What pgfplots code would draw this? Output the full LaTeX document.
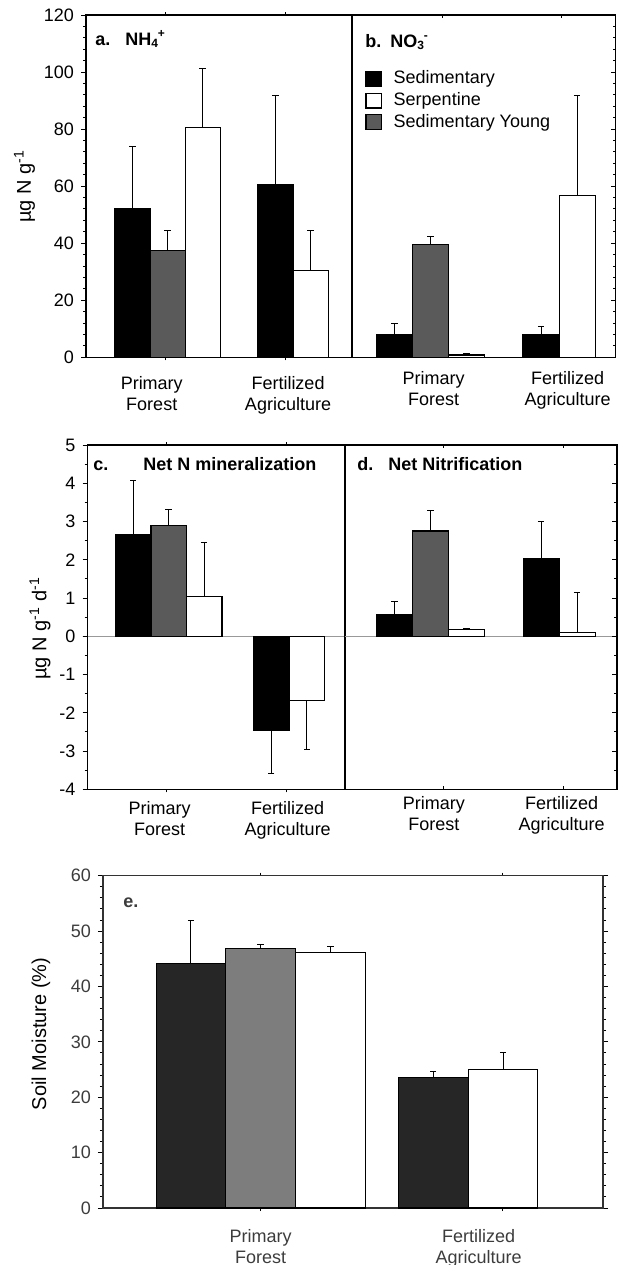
\documentclass[border=0pt]{standalone}
\usepackage{fontspec}
\setmainfont{Liberation Sans}
\usepackage{pgfplots}
\pgfplotsset{compat=1.18}

\definecolor{young}{RGB}{90,90,90}
\definecolor{sedE}{RGB}{38,38,38}
\definecolor{youngE}{RGB}{125,125,125}
\definecolor{textE}{RGB}{60,60,60}

\newcommand{\lab}{\fontsize{9}{10.5}\selectfont}
\newcommand{\ttl}{\fontsize{9}{10}\selectfont\bfseries}

\pgfplotsset{
  panel/.style={
    scale only axis, anchor=south west, ybar,
    every axis plot post/.append style={bar shift=0pt, draw=black, line width=0.6pt},
    axis line style={line width=0.6pt},
    tick style={black, line width=0.5pt},
    major tick length=2.5pt, minor tick length=1.5pt,
    tick align=outside,
    ticklabel style={font=\lab},
    /pgf/number format/assume math mode=true,
    x tick label style={align=center, font=\lab},
    major x tick style={draw=none},
    label style={font=\lab},
    error bars/y dir=plus, error bars/y explicit,
    error bars/error bar style={line width=0.5pt, black},
    error bars/error mark options={mark size=1.6pt, line width=0.5pt, black, rotate=90},
    xticklabels={{Primary\\Forest},{Fertilized\\Agriculture}},
  },
  zeroline/.style={
    extra y ticks={0}, extra y tick labels={},
    extra y tick style={grid=major, major grid style={gray!80, line width=0.4pt}},
  },
}

\begin{document}
\begin{tikzpicture}
\useasboundingbox (0pt,0pt) rectangle (309pt,-632.5pt);

% ---------- a. NH4+ ----------
\begin{axis}[panel, at={(43pt,-178.65pt)}, width=133pt, height=171.15pt,
  xmin=0.35, xmax=2.47, ymin=0, ymax=120,
  ytick={0,20,...,120}, minor y tick num=4, ytick pos=left,
  xtick={0.874,1.96}, minor xtick={0.984,1.943},
  x tick label style={yshift=-3.5pt},
  bar width=0.28,
  ylabel={µg N g\textsuperscript{-1}},
  every axis y label/.style={at={(rel axis cs:-0.231,0.5)}, rotate=90, anchor=center}]
\addplot[fill=black] coordinates {(0.72,52.0) +- (0,21.8) (1.86,60.6) +- (0,31.2)};
\addplot[fill=young] coordinates {(1.00,37.4) +- (0,7.2)};
\addplot[fill=white] coordinates {(1.28,80.7) +- (0,20.6) (2.14,30.5) +- (0,14.1)};
\end{axis}

% ---------- b. NO3- ----------
\begin{axis}[panel, at={(176pt,-178.65pt)}, width=131.85pt, height=171.15pt,
  xmin=0.39, xmax=2.44, ymin=0, ymax=120,
  ytick={0,20,...,120}, minor y tick num=4, ytick pos=right, yticklabels={},
  tick align=inside,
  xtick={1.025,2.067}, minor xtick={1.09,2.02},
  x tick label style={yshift=-3.5pt},
  bar width=0.28,
  every axis plot post/.append style={legend image code/.code={\draw[#1, line width=0.6pt] (0pt,-3.7pt) rectangle (7.6pt,3.7pt);}},
  legend style={at={(rel axis cs:0.049,0.838)}, anchor=north west, draw=none, fill=none,
    font=\lab, inner sep=0pt, row sep=2.8pt, nodes={inner sep=0pt}, cells={anchor=west},
    /tikz/every odd column/.append style={column sep=6pt}}]
\addplot[fill=black] coordinates {(0.72,7.8) +- (0,4.1) (1.86,7.8) +- (0,2.9)};
\addlegendentry{Sedimentary}
\addplot[fill=white] coordinates {(1.28,0.8) +- (0,0.4) (2.14,56.6) +- (0,35.2)};
\addlegendentry{Serpentine}
\addplot[fill=young] coordinates {(1.00,39.6) +- (0,2.7)};
\addlegendentry{Sedimentary Young}
\end{axis}

% ---------- c. Net N mineralization ----------
\begin{axis}[panel, zeroline, at={(43.75pt,-394.65pt)}, width=128.75pt, height=172.15pt,
  xmin=0.325, xmax=2.466, ymin=-4, ymax=5,
  ytick={-4,-3,...,5}, minor y tick num=1, ytick pos=left,
  xtick={0.925,1.99}, minor xtick={0.98,1.98},
  bar width=0.295,
  ylabel={µg N g\textsuperscript{-1} d\textsuperscript{-1}},
  every axis y label/.style={at={(rel axis cs:-0.184,0.468)}, rotate=90, anchor=center}]
\addplot[fill=black] coordinates {(0.705,2.65) +- (0,1.41)};
\addplot[fill=black, error bars/y dir=minus] coordinates {(1.853,-2.47) +- (0,1.11)};
\addplot[fill=young] coordinates {(1.000,2.90) +- (0,0.42)};
\addplot[fill=white] coordinates {(1.295,1.05) +- (0,1.41)};
\addplot[fill=white, error bars/y dir=minus] coordinates {(2.148,-1.68) +- (0,1.29)};
\end{axis}

% ---------- d. Net Nitrification ----------
\begin{axis}[panel, zeroline, at={(172.5pt,-394.65pt)}, width=136pt, height=172.15pt,
  xmin=0.334, xmax=2.45, ymin=-4, ymax=5,
  ytick={-4,-3,...,5}, minor y tick num=1, ytick pos=right, yticklabels={},
  tick align=inside,
  xtick={1.025,2.02}, minor xtick={1.1,2.03},
  bar width=0.28]
\addplot[fill=black] coordinates {(0.72,0.58) +- (0,0.33) (1.86,2.04) +- (0,0.96)};
\addplot[fill=young] coordinates {(1.00,2.75) +- (0,0.55)};
\addplot[fill=white] coordinates {(1.28,0.17) +- (0,0.03) (2.14,0.10) +- (0,1.05)};
\end{axis}

% ---------- e. Soil moisture ----------
\begin{axis}[panel, at={(51.5pt,-604pt)}, width=250pt, height=166.15pt,
  xmin=0.24, xmax=2.65, ymin=0, ymax=60,
  ytick={0,10,...,60}, minor y tick num=4, ytick pos=both, yticklabel pos=left,
  xtick={1.0,2.05}, minor xtick={1.0,2.165},
  x tick label style={yshift=-4.5pt},
  axis line style={draw=black!80}, ticklabel style={text=textE}, label style={text=textE!85},
  bar width=0.336,
  ylabel={Soil Moisture (\%)},
  every axis y label/.style={at={(rel axis cs:-0.124,0.524)}, rotate=90, anchor=center}]
\addplot[fill=sedE] coordinates {(0.664,44.1) +- (0,7.8) (1.832,23.6) +- (0,1.0)};
\addplot[fill=youngE] coordinates {(1.000,46.9) +- (0,0.6)};
\addplot[fill=white] coordinates {(1.336,46.2) +- (0,1.1) (2.168,25.0) +- (0,3.0)};
\end{axis}

% panel titles
\begin{scope}[every node/.style={anchor=base west, font=\ttl, inner sep=0pt}]
\node at (47.5pt,-22.5pt) {a.};
\node at (62.5pt,-22.5pt) {NH\textsubscript{4}\kern-0.6pt\textsuperscript{+}};
\node at (182.5pt,-23.5pt) {b.};
\node at (195pt,-23.5pt) {NO\textsubscript{3}\kern-0.6pt\textsuperscript{-}};
\node at (46.5pt,-235pt) {c.};
\node at (71.5pt,-235pt) {Net N mineralization};
\node at (178.5pt,-235pt) {d.};
\node at (194pt,-235pt) {Net Nitrification};
\node[text=textE] at (61.5pt,-453.5pt) {e.};
\end{scope}
\end{tikzpicture}
\end{document}
